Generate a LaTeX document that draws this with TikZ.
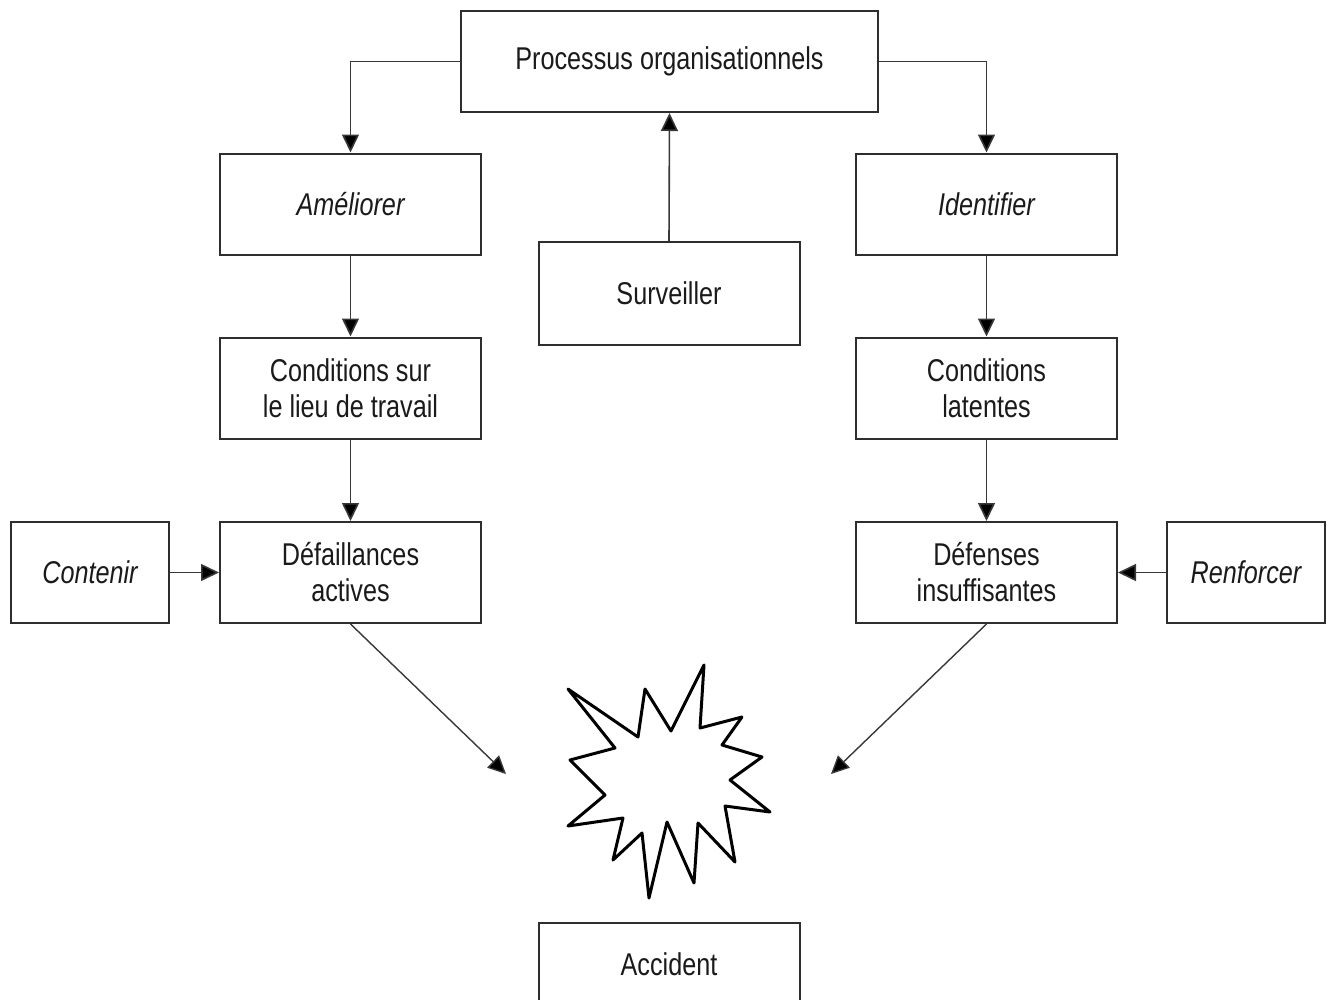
\documentclass[tikz,border=0pt]{standalone}
\usepackage{fontspec}
\setmainfont{Liberation Sans}[FakeStretch=0.8]
\usetikzlibrary{arrows.meta}
\definecolor{ink}{HTML}{1A1A1A}
\definecolor{edge}{HTML}{2E2E2E}
\definecolor{wire}{HTML}{383838}
\begin{document}
\begin{tikzpicture}[x=1pt,y=-1pt,
  box/.style={draw=edge,line width=2pt,fill=white,inner sep=0pt,
    minimum width=261pt,minimum height=101pt,align=center,text=ink,
    font=\fontsize{31.5}{36}\selectfont},
  sidebox/.style={box,minimum width=158pt},
  link/.style={draw=wire,line width=1.6pt,
    -{Triangle[length=18pt,width=17pt,fill=black]}},
  blast/.style={draw=black,line width=3pt,line join=round,fill=white}]
\useasboundingbox (0,0) rectangle (1331,999);
\clip (0,0) rectangle (1331,999);

% boxes
\node[box,minimum width=417pt] (proc) at (669.5,61.5) {Processus organisationnels};
\node[box] (ame) at (350.5,204) {\itshape Améliorer};
\node[box] (ide) at (986.5,204) {\itshape Identifier};
\node[box,minimum height=103pt] (surv) at (669,293.5) {Surveiller};
\node[box] (clt) at (350.5,388) {Conditions sur\\le lieu de travail};
\node[box] (clat) at (986.5,388) {Conditions\\latentes};
\node[box] (dact) at (350.5,572.5) {Défaillances\\actives};
\node[box] (dins) at (986.5,572.5) {Défenses\\insuffisantes};
\node[sidebox] (cont) at (90,572.5) {\itshape Contenir};
\node[sidebox] (renf) at (1246,572.5) {\itshape Renforcer};
\node[box,minimum height=82pt] (acc) at (669,964) {Accident};

% connectors
\draw[link] (proc.west) -| (ame.north);
\draw[link] (proc.east) -| (ide.north);
\draw[link] (surv.north) -- (proc.south);
\draw[link] (ame.south) -- (clt.north);
\draw[link] (clt.south) -- (dact.north);
\draw[link] (ide.south) -- (clat.north);
\draw[link] (clat.south) -- (dins.north);
\draw[link] (cont.east) -- (dact.west);
\draw[link] (renf.west) -- (dins.east);

\coordinate (hitL) at (506,774);
\coordinate (hitR) at (831,774);
\draw[link,line width=1.4pt] (dact.south) -- (hitL);
\draw[link,line width=1.4pt] (dins.south) -- (hitR);

% starburst
\draw[blast] (568,689) -- (638,737) -- (645,689) -- (671,731) -- (704,665)
  -- (700,728) -- (742,717) -- (722,745) -- (762,757) -- (730,780)
  -- (770,812) -- (725,806) -- (735,862) -- (698,823) -- (694,883)
  -- (667,822) -- (649,898) -- (642,833) -- (613,860) -- (623,818)
  -- (568,826) -- (605,795) -- (570,760) -- (615,748) -- cycle;
\end{tikzpicture}
\end{document}
